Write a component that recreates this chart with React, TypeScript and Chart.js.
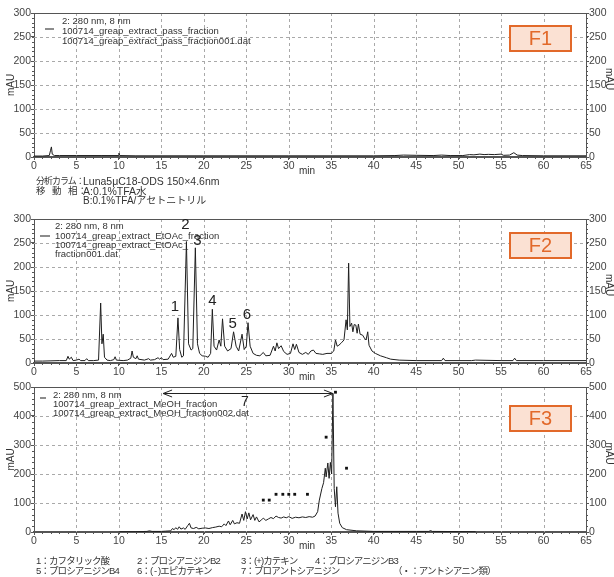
import React, { useEffect, useRef } from "react";
import { Chart, registerables } from "chart.js";

Chart.register(...registerables);
Chart.defaults.font.family = '"Liberation Sans", Arial, sans-serif';

// Axis ticks
const minuteTicks = [0, 5, 10, 15, 20, 25, 30, 35, 40, 45, 50, 55, 60, 65];
const mauTicks300 = [0, 50, 100, 150, 200, 250, 300];
const mauTicks500 = [0, 100, 200, 300, 400, 500];

// F1: pass fraction (280 nm)
const f1Minutes = [0, 1.0, 1.8, 1.95, 2.05, 2.15, 2.4, 3.0, 5.0, 8.0, 9.9, 10.0, 10.1, 12.0, 20.0, 30.0, 40.0, 42.5, 43.5, 45.0, 47.0, 48.0, 49.0, 50.5, 51.3, 51.8, 52.5, 53.0, 53.5, 54.2, 55.0, 55.3, 56.0, 56.5, 56.9, 57.5, 60.0, 65.0];
const f1Mau = [2, 2, 3, 14, 21, 6, 3, 3, 3, 3, 3, 8, 3, 2.5, 2.5, 2.5, 2.5, 3, 4, 3.5, 3, 4, 3, 3, 5, 4.5, 6, 5, 5.5, 5, 6, 3.5, 4, 9, 4, 3, 2.5, 2.5];

// F2: EtOAc fraction (280 nm)
const f2Minutes = [0, 1, 2, 3, 3.8, 4.0, 4.15, 4.4, 4.6, 5.0, 5.3, 5.5, 6.0, 6.2, 6.4, 7.0, 7.6, 7.85, 8.0, 8.15, 8.3, 8.6, 9.0, 9.4, 9.55, 9.7, 10.5, 11.0, 11.4, 11.55, 11.7, 12.0, 12.15, 12.3, 13.0, 13.5, 13.7, 14.2, 14.6, 14.8, 15.0, 15.2, 15.8, 16.2, 16.4, 16.7, 16.95, 17.15, 17.4, 17.6, 17.95, 18.2, 18.5, 18.7, 19.0, 19.25, 19.5, 19.8, 20.2, 20.5, 20.8, 21.0, 21.2, 21.5, 21.8, 22.0, 22.2, 22.45, 22.8, 23.2, 23.5, 23.8, 24.1, 24.5, 24.75, 25.0, 25.2, 25.45, 25.8, 26.2, 26.6, 27.0, 27.3, 27.8, 28.2, 28.4, 28.6, 28.8, 29.1, 29.4, 29.8, 30.2, 30.5, 30.7, 30.9, 31.2, 31.6, 32.0, 32.3, 32.6, 32.9, 33.2, 33.6, 34.0, 34.5, 35.0, 35.3, 35.5, 35.7, 35.9, 36.2, 36.5, 36.75, 36.9, 37.05, 37.2, 37.4, 37.55, 37.7, 37.9, 38.05, 38.2, 38.4, 38.7, 38.9, 39.1, 39.3, 39.45, 39.8, 40.2, 40.8, 41.5, 42.0, 43.0, 45.0, 48.0, 48.2, 48.4, 51.5, 52.0, 55.0, 56.4, 56.6, 56.8, 60.0, 65.0];
const f2Mau = [4, 4, 4.5, 5, 5, 14, 8, 12, 5, 6, 8, 5, 5, 9, 5, 5, 6, 125, 40, 60, 12, 6, 5, 7, 13, 6, 5, 6, 10, 25, 12, 9, 15, 8, 6, 9, 6, 7, 11, 8, 11, 7, 8, 20, 12, 14, 94, 28, 12, 15, 253, 40, 27, 30, 240, 40, 20, 15, 14, 12, 20, 112, 35, 27, 48, 35, 92, 35, 25, 30, 65, 35, 25, 60, 28, 35, 84, 35, 20, 16, 15, 22, 15, 16, 35, 25, 42, 30, 36, 24, 18, 20, 40, 28, 39, 22, 18, 22, 18, 25, 27, 20, 19, 18, 20, 20, 25, 48, 35, 37, 42, 48, 90, 69, 208, 76, 83, 65, 80, 79, 62, 81, 60, 58, 52, 48, 65, 37, 25, 20, 15, 11, 8, 6, 5, 5, 10, 5, 5, 6, 5, 5, 10, 5, 5, 5];

// F3: MeOH fraction (280 nm)
const f3Minutes = [10.0, 12.0, 13.3, 13.6, 13.9, 15.0, 15.5, 16.1, 16.3, 16.5, 16.7, 16.9, 17.1, 17.3, 17.6, 17.8, 18.1, 18.3, 18.5, 18.8, 19.1, 19.4, 19.8, 20.2, 20.6, 21.0, 21.4, 21.8, 22.1, 22.4, 22.6, 22.9, 23.1, 23.4, 23.6, 23.9, 24.2, 24.5, 24.7, 24.9, 25.1, 25.3, 25.5, 25.8, 26.0, 26.2, 26.5, 26.8, 27.0, 27.3, 27.6, 27.9, 28.2, 28.5, 28.8, 29.1, 29.4, 29.7, 30.0, 30.4, 30.8, 31.2, 31.6, 32.0, 32.4, 32.8, 33.1, 33.4, 33.6, 33.9, 34.1, 34.3, 34.4, 34.6, 34.75, 34.9, 35.05, 35.2, 35.35, 35.5, 35.65, 35.8, 36.0, 36.3, 36.8, 38.0, 40.0, 45.0, 46.5, 46.7, 46.9, 50.0, 52.0];
const f3Mau = [1, 1, 2, 4, 2, 2, 3, 4, 12, 8, 15, 9, 18, 10, 14, 9, 22, 30, 14, 12, 16, 11, 13, 14, 12, 15, 17, 20, 18, 28, 22, 38, 25, 40, 28, 32, 30, 62, 40, 70, 45, 66, 42, 60, 40, 52, 35, 42, 48, 40, 45, 50, 46, 55, 50, 48, 52, 49, 53, 47, 51, 49, 52, 50, 53, 51, 55, 70, 110, 150, 170, 220, 190, 238, 185, 240, 200, 478, 150, 87, 156, 65, 30, 15, 8, 4, 2, 2, 2, 5, 2, 1.5, 1];

// Anthocyanin peaks marked in F3
const anthocyaninMinutes = [27.0, 27.7, 28.5, 29.3, 30.0, 30.7, 32.2, 34.4, 35.5, 36.8];
const anthocyaninMau = [110, 110, 130, 130, 130, 130, 130, 327, 482, 220];

// Numbered peaks in F2
const peakNumbers = ["1", "2", "3", "4", "5", "6"];
const peakMinutes = [16.95, 17.95, 19.0, 21.0, 23.5, 25.2];
const peakMau = [94, 253, 240, 112, 65, 84];

// Proanthocyanidin range in F3
const rangeLabel = "7";
const rangeStart = 15.2;
const rangeEnd = 35.2;
const rangeMau = 478;

const compoundNames = ["カフタリック酸", "プロシアニジンB2", "(+)カテキン", "プロシアニジンB3", "プロシアニジンB4", "( - )エピカテキン", "プロアントシアニジン"];

type PanelCfg = {
  tag: string;
  top: number;
  height: number;
  areaTop: number;
  areaBottom: number;
  yMax: number;
  yTicks: number[];
  yMinor: number;
  minutes: number[];
  mau: number[];
  legend: string[];
  legendX: number;
  legendY: number[];
  mark: [number, number, number];
  boxTop: number;
  dots?: { minutes: number[]; mau: number[] };
  extras?: (chart: any) => void;
};

const ORANGE = "#e2692a";
const INK = "#333";

function line(ctx: CanvasRenderingContext2D, x1: number, y1: number, x2: number, y2: number) {
  ctx.beginPath();
  ctx.moveTo(x1, y1);
  ctx.lineTo(x2, y2);
  ctx.stroke();
}

function drawPeakLabels(chart: any) {
  const { ctx, scales } = chart;
  // per-label nudges (px): [dx, dy above the apex]
  const nudge: [number, number][] = [[-3, 11], [-1, 17], [2, 7], [0, 8], [-1, 8], [-1, 8]];
  ctx.save();
  ctx.fillStyle = "#222";
  ctx.font = '15px "Liberation Sans", Arial, sans-serif';
  ctx.textAlign = "center";
  ctx.textBaseline = "middle";
  peakNumbers.forEach((n, i) => {
    const x = scales.x.getPixelForValue(peakMinutes[i]) + nudge[i][0];
    const y = scales.y.getPixelForValue(peakMau[i]) - nudge[i][1];
    ctx.fillText(n, x, y);
  });
  ctx.restore();
}

function drawRangeArrow(chart: any) {
  const { ctx, scales } = chart;
  const x1 = scales.x.getPixelForValue(rangeStart);
  const x2 = scales.x.getPixelForValue(rangeEnd);
  const y = Math.round(scales.y.getPixelForValue(rangeMau)) + 0.5;
  ctx.save();
  ctx.strokeStyle = "#222";
  ctx.lineWidth = 1;
  line(ctx, x1, y, x2, y);
  ctx.beginPath();
  ctx.moveTo(x1 + 9, y - 3.5);
  ctx.lineTo(x1, y);
  ctx.lineTo(x1 + 9, y + 3.5);
  ctx.moveTo(x2 - 9, y - 3.5);
  ctx.lineTo(x2, y);
  ctx.lineTo(x2 - 9, y + 3.5);
  ctx.stroke();
  ctx.fillStyle = "#222";
  ctx.font = '14px "Liberation Sans", Arial, sans-serif';
  ctx.textAlign = "center";
  ctx.textBaseline = "middle";
  ctx.fillText(rangeLabel, (x1 + x2) / 2 - 3, y + 9);
  ctx.restore();
}

function makePlugin(cfg: PanelCfg) {
  return {
    id: "panelDecor" + cfg.tag,
    beforeDatasetsDraw(chart: any) {
      const { ctx, chartArea: a, scales } = chart;
      const xs = scales.x;
      const ys = scales.y;
      ctx.save();
      // dashed grid
      ctx.strokeStyle = "#a9a9a9";
      ctx.lineWidth = 1;
      ctx.setLineDash([3, 3]);
      minuteTicks.forEach((t) => {
        if (t <= 0 || t >= 65) return;
        const px = Math.round(xs.getPixelForValue(t)) + 0.5;
        line(ctx, px, a.top, px, a.bottom);
      });
      cfg.yTicks.forEach((v) => {
        if (v <= 0 || v >= cfg.yMax) return;
        const py = Math.round(ys.getPixelForValue(v)) + 0.5;
        line(ctx, a.left, py, a.right, py);
      });
      ctx.setLineDash([]);
      // top frame
      ctx.strokeStyle = "#555";
      line(ctx, a.left, a.top + 0.5, a.right, a.top + 0.5);
      // minor ticks
      for (let v = 0; v <= cfg.yMax; v += cfg.yMinor) {
        const py = Math.round(ys.getPixelForValue(v)) + 0.5;
        line(ctx, a.left - 2, py, a.left, py);
        line(ctx, a.right, py, a.right + 2, py);
      }
      for (let t = 0; t <= 65; t += 1) {
        const px = Math.round(xs.getPixelForValue(t)) + 0.5;
        line(ctx, px, a.bottom, px, a.bottom + 2);
      }
      ctx.restore();
    },
    afterDatasetsDraw(chart: any) {
      const { ctx, chartArea: a } = chart;
      const off = cfg.top;
      ctx.save();
      // legend
      ctx.strokeStyle = "#666";
      ctx.lineWidth = 1.5;
      line(ctx, cfg.mark[0], cfg.mark[2] - off, cfg.mark[1], cfg.mark[2] - off);
      ctx.fillStyle = INK;
      ctx.font = '9.5px "Liberation Sans", Arial, sans-serif';
      ctx.textAlign = "left";
      ctx.textBaseline = "middle";
      cfg.legend.forEach((s, i) => ctx.fillText(s, cfg.legendX, cfg.legendY[i] - off));
      // fraction tag
      const bx = 510, bw = 61, bh = 25, by = cfg.boxTop - off;
      ctx.fillStyle = "#fbe1d3";
      ctx.fillRect(bx, by, bw, bh);
      ctx.strokeStyle = ORANGE;
      ctx.lineWidth = 2;
      ctx.strokeRect(bx, by, bw, bh);
      ctx.fillStyle = ORANGE;
      ctx.font = '20px "Liberation Sans", Arial, sans-serif';
      ctx.textAlign = "center";
      ctx.fillText(cfg.tag, bx + bw / 2, by + bh / 2 + 1);
      // axis titles
      ctx.fillStyle = INK;
      ctx.font = '10px "Liberation Sans", Arial, sans-serif';
      const cy = (a.top + a.bottom) / 2;
      ctx.save();
      ctx.translate(11, cy);
      ctx.rotate(-Math.PI / 2);
      ctx.fillText("mAU", 0, 0);
      ctx.restore();
      ctx.save();
      ctx.translate(609, cy - 6);
      ctx.rotate(Math.PI / 2);
      ctx.fillText("mAU", 0, 0);
      ctx.restore();
      ctx.fillText("min", 307, a.bottom + 14);
      ctx.restore();
      if (cfg.extras) cfg.extras(chart);
    },
  };
}

function buildConfig(cfg: PanelCfg): any {
  const datasets: any[] = [
    {
      data: cfg.minutes.map((m, i) => ({ x: m, y: cfg.mau[i] })),
      showLine: true,
      borderColor: "#1e1e1e",
      borderWidth: 1,
      pointRadius: 0,
      tension: 0,
      order: 2,
    },
  ];
  if (cfg.dots) {
    datasets.push({
      data: cfg.dots.minutes.map((m, i) => ({ x: m, y: cfg.dots!.mau[i] })),
      showLine: false,
      pointStyle: "rect",
      pointRadius: 2,
      backgroundColor: "#111",
      borderColor: "#111",
      borderWidth: 0,
      order: 1,
    });
  }
  const yAxis = (position: "left" | "right", width: number) => ({
    type: "linear",
    position,
    min: 0,
    max: cfg.yMax,
    afterBuildTicks: (s: any) => {
      s.ticks = cfg.yTicks.map((v) => ({ value: v }));
    },
    afterFit: (s: any) => {
      s.width = width;
    },
    grid: { drawOnChartArea: false, drawTicks: true, tickLength: 3, tickColor: "#555" },
    border: { color: "#555", width: 1 },
    ticks: { color: "#444", font: { size: 10.5 }, padding: 0 },
  });
  return {
    type: "scatter",
    data: { datasets },
    options: {
      animation: false,
      responsive: false,
      devicePixelRatio: 1,
      layout: { padding: { top: cfg.areaTop, left: 0, right: 0, bottom: 0 } },
      plugins: { legend: { display: false }, tooltip: { enabled: false }, title: { display: false } },
      scales: {
        x: {
          type: "linear",
          min: 0,
          max: 65,
          afterBuildTicks: (s: any) => {
            s.ticks = minuteTicks.map((v) => ({ value: v }));
          },
          afterFit: (s: any) => {
            s.height = cfg.height - cfg.areaBottom;
          },
          grid: { drawOnChartArea: false, drawTicks: true, tickLength: 3, tickColor: "#555" },
          border: { color: "#555", width: 2 },
          ticks: { color: "#444", font: { size: 10.5 }, padding: 0, maxRotation: 0, autoSkip: false },
        },
        y: yAxis("left", 34),
        y2: yAxis("right", 28),
      },
    },
    plugins: [makePlugin(cfg)],
  };
}

const panels: PanelCfg[] = [
  {
    tag: "F1",
    top: 0,
    height: 180,
    areaTop: 13,
    areaBottom: 157,
    yMax: 300,
    yTicks: mauTicks300,
    yMinor: 10,
    minutes: f1Minutes,
    mau: f1Mau,
    legend: ["2: 280 nm, 8 nm", "100714_greap_extract_pass_fraction", "100714_greap_extract_pass_fraction001.dat"],
    legendX: 62,
    legendY: [21, 31, 41],
    mark: [45, 54, 29],
    boxTop: 26,
  },
  {
    tag: "F2",
    top: 205,
    height: 178,
    areaTop: 14,
    areaBottom: 158,
    yMax: 300,
    yTicks: mauTicks300,
    yMinor: 10,
    minutes: f2Minutes,
    mau: f2Mau,
    legend: ["2: 280 nm, 8 nm", "100714_greap_extract_EtOAc_fraction", "100714_greap_extract_EtOAc_", "fraction001.dat"],
    legendX: 55,
    legendY: [226, 236, 245, 254],
    mark: [40, 50, 236],
    boxTop: 233,
    extras: drawPeakLabels,
  },
  {
    tag: "F3",
    top: 378,
    height: 177,
    areaTop: 9,
    areaBottom: 154,
    yMax: 500,
    yTicks: mauTicks500,
    yMinor: 20,
    minutes: f3Minutes,
    mau: f3Mau,
    legend: ["2: 280 nm, 8 nm", "100714_greap_extract_MeOH_fraction", "100714_greap_extract_MeOH_fraction002.dat"],
    legendX: 53,
    legendY: [395, 404, 413],
    mark: [40, 46, 398],
    boxTop: 406,
    dots: { minutes: anthocyaninMinutes, mau: anthocyaninMau },
    extras: drawRangeArrow,
  },
];

function PanelChart({ cfg }: { cfg: PanelCfg }) {
  const ref = useRef<HTMLCanvasElement>(null);
  useEffect(() => {
    const chart = new Chart(ref.current as HTMLCanvasElement, buildConfig(cfg));
    return () => chart.destroy();
  }, [cfg]);
  return (
    <canvas
      ref={ref}
      width={614}
      height={cfg.height}
      style={{ position: "absolute", left: 0, top: cfg.top, width: 614, height: cfg.height }}
    />
  );
}

const textFont = '"Liberation Sans", "Noto Sans CJK JP", sans-serif';

function Note({
  x,
  y,
  size = 9.5,
  spacing = -0.9,
  children,
}: {
  x: number;
  y: number;
  size?: number;
  spacing?: number;
  children: React.ReactNode;
}) {
  return (
    <div
      style={{
        position: "absolute",
        left: x,
        top: y - 7,
        lineHeight: "14px",
        height: 14,
        fontSize: size,
        letterSpacing: `${spacing}px`,
        whiteSpace: "nowrap",
        color: INK,
        fontFamily: textFont,
      }}
    >
      {children}
    </div>
  );
}

export default function App() {
  const footX = [36, 137, 241, 315, 36, 137, 241];
  const footY = [561, 561, 561, 561, 571, 571, 571];
  return (
    <div style={{ position: "absolute", left: 0, top: 0, width: 614, height: 577, background: "#fff", overflow: "hidden" }}>
      {panels.map((p) => (
        <PanelChart key={p.tag} cfg={p} />
      ))}
      <Note x={36} y={181} size={9} spacing={-1}>分析カラム：</Note>
      <Note x={83} y={181} size={10.5} spacing={0}>Luna5μC18-ODS 150×4.6nm</Note>
      <Note x={36} y={191} size={9.5} spacing={0}>移</Note>
      <Note x={52} y={191} size={9.5} spacing={0}>動</Note>
      <Note x={68} y={191} size={9.5} spacing={0}>相：</Note>
      <Note x={83} y={191} size={10.5} spacing={0}>A:0.1%TFA水</Note>
      <Note x={83} y={201} size={10} spacing={0}>B:0.1%TFA/アセトニトリル</Note>
      {compoundNames.map((name, i) => (
        <Note key={name} x={footX[i]} y={footY[i]}>
          {`${i + 1}：${name}`}
        </Note>
      ))}
      <Note x={393} y={571}>（・：アントシアニン類）</Note>
    </div>
  );
}
